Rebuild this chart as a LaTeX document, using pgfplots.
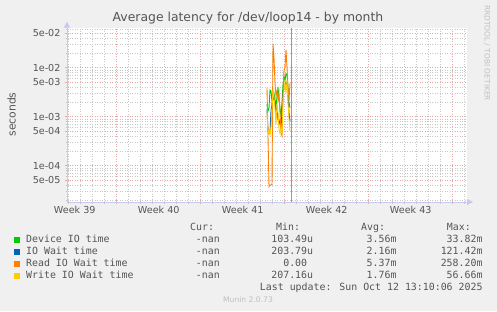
\documentclass[border=0pt]{standalone}
\usepackage{fontspec}
\setmainfont{DejaVu Sans}
\newfontfamily\mono{DejaVu Sans Mono}
\usepackage{pgfplots}
\usepackage{pgfplotstable}
\pgfplotsset{compat=1.18}
\usetikzlibrary{arrows.meta}
\definecolor{bg}{HTML}{F0F0F0}
\definecolor{txt}{HTML}{555555}
\definecolor{axisc}{HTML}{C8C8F0}
\definecolor{gridred}{HTML}{E8A8A8}
\definecolor{gridgray}{HTML}{C8C8C8}
\definecolor{devc}{HTML}{00CC00}
\definecolor{iowc}{HTML}{0066B3}
\definecolor{readc}{HTML}{FF8000}
\definecolor{writec}{HTML}{FFCC00}
\definecolor{nowc}{HTML}{999999}

\pgfplotstableread{
px dev iow read write
267 1.8e-3 1.4e-3 3.8e-3 1.2e-3
268 1.3e-3 5.0e-4 4.0e-4 4.5e-4
269 1.5e-3 4.5e-4 3.7e-5 5.0e-4
270 3.5e-3 4.6e-4 4.0e-5 4.2e-4
271 3.3e-3 1.3e-3 4.0e-5 6.0e-4
272 2.0e-3 1.8e-3 4.2e-5 1.5e-3
273 2.5e-3 2.2e-3 3.1e-2 3.5e-3
274 3.0e-3 2.5e-3 1.6e-2 2.5e-3
275 2.2e-3 2.0e-3 4.8e-3 1.5e-3
276 1.6e-3 1.2e-3 2.6e-3 7.0e-4
277 2.5e-3 1.5e-3 3.3e-3 1.8e-3
278 4.0e-3 9.0e-4 2.2e-3 1.2e-3
279 2.2e-3 7.0e-4 3.0e-3 5.5e-4
280 1.5e-3 8.5e-4 1.2e-3 4.5e-4
281 1.0e-3 6.0e-4 4.6e-4 6.0e-4
282 2.0e-3 1.2e-3 4.0e-4 4.3e-4
283 4.5e-3 3.0e-3 2.6e-3 2.2e-3
284 6.5e-3 4.0e-3 8.9e-3 3.5e-3
285 5.5e-3 4.5e-3 1.0e-2 5.0e-3
286 7.5e-3 5.0e-3 2.3e-2 3.0e-3
287 7.0e-3 4.5e-3 1.0e-2 5.5e-3
288 4.0e-3 2.5e-3 4.0e-3 2.0e-3
289 2.0e-3 1.2e-3 2.2e-3 9.0e-4
290 1.5e-3 8.0e-4 4.8e-3 5.0e-4
}\data

\begin{document}
\begin{tikzpicture}[x=1pt,y=1pt]
\fill[bg] (0,0) rectangle (497,311);
\useasboundingbox (0,0) rectangle (497,311);
\begin{axis}[
  at={(67pt,109pt)}, anchor=south west,
  scale only axis, width=400pt, height=174.3pt,
  xmin=67, xmax=467,
  ymode=log, ymin=1.8e-5, ymax=6.5e-2,
  axis background/.style={fill=white},
  axis x line=bottom, axis y line=left,
  axis line style={draw=axisc, line width=0.8pt},
  x axis line style={-{Triangle[length=6pt,width=6pt]}, shorten >=-6pt},
  y axis line style={-{Triangle[length=6pt,width=6pt]}, shorten >=-6pt},
  xtick={116.7,200.7,284.7,368.7,452.7},
  xticklabels={},
  minor xtick={68.7,80.7,92.7,104.7,128.7,140.7,152.7,164.7,176.7,188.7,212.7,224.7,236.7,248.7,260.7,272.7,296.7,308.7,320.7,332.7,344.7,356.7,380.7,392.7,404.7,416.7,428.7,440.7,464.7},
  extra x ticks={74.7,158.7,242.7,326.7,410.7},
  extra x tick labels={Week 39,Week 40,Week 41,Week 42,Week 43},
  extra x tick style={grid=none, major tick length=0pt},
  ytick={5e-5,1e-4,5e-4,1e-3,5e-3,1e-2,5e-2},
  yticklabels={5e-05,1e-04,5e-04,1e-03,5e-03,1e-02,5e-02},
  minor ytick={2e-5,3e-5,4e-5,6e-5,7e-5,8e-5,9e-5,2e-4,3e-4,4e-4,6e-4,7e-4,8e-4,9e-4,2e-3,3e-3,4e-3,6e-3,7e-3,8e-3,9e-3,2e-2,3e-2,4e-2,6e-2},
  grid=both,
  major grid style={draw=gridred, dash pattern=on 1pt off 1.5pt, line width=0.5pt},
  minor grid style={draw=gridgray, dash pattern=on 1pt off 1.5pt, line width=0.5pt},
  tick align=center,
  major tick length=4pt, minor tick length=3pt,
  major tick style={draw=gridred, line width=0.5pt},
  minor tick style={draw=gridgray, line width=0.5pt},
  tick label style={font=\fontsize{9.6}{11}\selectfont, text=txt},
  /pgf/number format/assume math mode=true,
  yticklabel style={xshift=-1pt},
  xticklabel style={yshift=-1pt},
  clip=true,
]
\addplot[devc, line width=0.9pt, no marks] table[x=px,y=dev]{\data};
\addplot[iowc, line width=0.9pt, no marks] table[x=px,y=iow]{\data};
\addplot[readc, line width=0.9pt, no marks] table[x=px,y=read]{\data};
\addplot[writec, line width=0.9pt, no marks] table[x=px,y=write]{\data};
\addplot[draw=nowc, solid, line width=1pt, no marks] coordinates {(291,1.8e-5) (291,6.5e-2)};
\end{axis}
% title
\node[text=txt, font=\fontsize{12.4}{14}\selectfont] at (248,293) {Average latency for /dev/loop14 - by month};
\node[text=txt, font=\fontsize{10.8}{12}\selectfont, rotate=90] at (11.5,196.5) {seconds};
\node[text={rgb,255:red,192;green,192;blue,192}, font=\fontsize{7.45}{9}\selectfont, rotate=-90] at (487,258) {RRDTOOL / TOBI OETIKER};
% legend
\begin{scope}[every node/.style={text=txt, font=\mono\fontsize{9.9}{11}\selectfont, inner sep=0pt}]
\node[anchor=mid west] at (190,83.3) {Cur:};
\node[anchor=mid west] at (276,83.3) {Min:};
\node[anchor=mid west] at (361,83.3) {Avg:};
\node[anchor=mid west] at (446.7,83.3) {Max:};
\fill[devc] (14,67.9) rectangle (20,73.9);
\fill[iowc] (14,55.9) rectangle (20,61.9);
\fill[readc] (14,44.3) rectangle (20,50.3);
\fill[writec] (14,31.9) rectangle (20,37.9);
\node[anchor=mid west] at (26,71.3) {Device IO time};
\node[anchor=mid west] at (26,59.3) {IO Wait time};
\node[anchor=mid west] at (26,47.7) {Read IO Wait time};
\node[anchor=mid west] at (26,35.3) {Write IO Wait time};
\foreach \yy in {71.3,59.3,47.7,35.3} {\node[anchor=mid east] at (220,\yy) {-nan};}
\node[anchor=mid east] at (313.3,71.3) {103.49u};
\node[anchor=mid east] at (313.3,59.3) {203.79u};
\node[anchor=mid east] at (313.3,47.7) {0.00\phantom{u}};
\node[anchor=mid east] at (313.3,35.3) {207.16u};
\node[anchor=mid east] at (396.7,71.3) {3.56m};
\node[anchor=mid east] at (396.7,59.3) {2.16m};
\node[anchor=mid east] at (396.7,47.7) {5.37m};
\node[anchor=mid east] at (396.7,35.3) {1.76m};
\node[anchor=mid east] at (482.7,71.3) {33.82m};
\node[anchor=mid east] at (482.7,59.3) {121.42m};
\node[anchor=mid east] at (482.7,47.7) {258.20m};
\node[anchor=mid east] at (482.7,35.3) {56.66m};
\node[anchor=mid east] at (482.7,23.3) {Last update: Sun Oct 12 13:10:06 2025};
\end{scope}
\node[text={rgb,255:red,190;green,190;blue,190}, font=\fontsize{7.6}{9}\selectfont] at (248,11.3) {Munin 2.0.73};
\end{tikzpicture}
\end{document}
